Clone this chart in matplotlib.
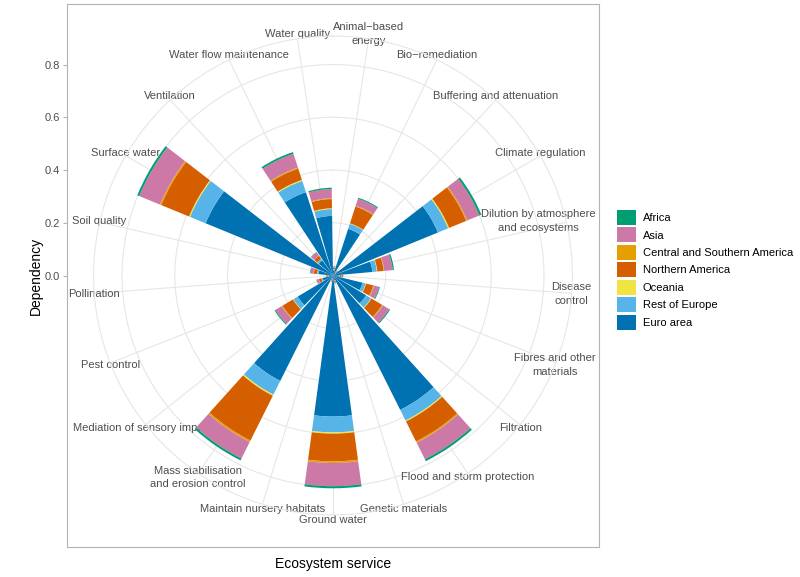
import numpy as np
import matplotlib
matplotlib.use("Agg")
import matplotlib.pyplot as plt
from matplotlib.patches import Patch

plt.rcParams["font.family"] = ["Liberation Sans", "DejaVu Sans"]

services = [
    "Animal\u2212based\nenergy",
    "Bio\u2212remediation",
    "Buffering and attenuation",
    "Climate regulation",
    "Dilution by atmosphere\nand ecosystems",
    "Disease\ncontrol",
    "Fibres and other\nmaterials",
    "Filtration",
    "Flood and storm protection",
    "Genetic materials",
    "Ground water",
    "Maintain nursery habitats",
    "Mass stabilisation\nand erosion control",
    "Mediation of sensory impacts",
    "Pest control",
    "Pollination",
    "Soil quality",
    "Surface water",
    "Ventilation",
    "Water flow maintenance",
    "Water quality",
]

# dependency by region, one value per service
euro_area = [0.020, 0.186, 0.012, 0.430, 0.150, 0.022, 0.115, 0.146, 0.570, 0.018, 0.535,
             0.012, 0.447, 0.156, 0.040, 0.015, 0.055, 0.522, 0.070, 0.332, 0.226]
rest_of_europe = [0.003, 0.020, 0.002, 0.042, 0.017, 0.003, 0.012, 0.022, 0.045, 0.002, 0.060,
                  0.002, 0.058, 0.019, 0.004, 0.002, 0.005, 0.064, 0.006, 0.045, 0.026]
oceania = [0.001, 0.002, 0.001, 0.004, 0.002, 0.001, 0.002, 0.002, 0.004, 0.001, 0.005,
           0.001, 0.005, 0.002, 0.001, 0.001, 0.001, 0.004, 0.001, 0.004, 0.003]
northern_america = [0.005, 0.067, 0.004, 0.070, 0.024, 0.006, 0.028, 0.047, 0.085, 0.005, 0.105,
                    0.003, 0.190, 0.046, 0.010, 0.004, 0.012, 0.114, 0.015, 0.045, 0.035]
central_southern_america = [0.001, 0.003, 0.001, 0.004, 0.002, 0.001, 0.003, 0.003, 0.005, 0.001, 0.006,
                            0.001, 0.006, 0.003, 0.001, 0.001, 0.001, 0.005, 0.001, 0.004, 0.003]
asia = [0.004, 0.028, 0.003, 0.050, 0.032, 0.005, 0.020, 0.028, 0.070, 0.004, 0.088,
        0.003, 0.070, 0.028, 0.008, 0.003, 0.012, 0.085, 0.014, 0.055, 0.035]
africa = [0.001, 0.004, 0.001, 0.008, 0.005, 0.001, 0.003, 0.004, 0.008, 0.001, 0.008,
          0.001, 0.008, 0.004, 0.001, 0.001, 0.002, 0.008, 0.002, 0.007, 0.005]

# stacked from the centre outwards
stack = [
    ("Euro area", euro_area),
    ("Rest of Europe", rest_of_europe),
    ("Oceania", oceania),
    ("Northern America", northern_america),
    ("Central and Southern America", central_southern_america),
    ("Asia", asia),
    ("Africa", africa),
]
colors = {
    "Africa": "#009E73",
    "Asia": "#CC79A7",
    "Central and Southern America": "#E69F00",
    "Northern America": "#D55E00",
    "Oceania": "#F0E442",
    "Rest of Europe": "#56B4E9",
    "Euro area": "#0072B2",
}
legend_order = ["Africa", "Asia", "Central and Southern America", "Northern America",
                "Oceania", "Rest of Europe", "Euro area"]

# layout in pixels
W, H = 800, 577
left, top, right, bottom = 67, 4, 599, 547
cx, cy = (left + right) / 2, (top + bottom) / 2
r_px = 0.4 * (right - left)
outer_px = 0.45 * (right - left)

totals = np.sum([np.array(v) for _, v in stack], axis=0)
rmax = totals.max()
px_per_unit = r_px / rmax
r_outer = rmax * 0.45 / 0.4

fig = plt.figure(figsize=(W / 100, H / 100), dpi=100)

frame = fig.add_axes([left / W, (H - bottom) / H, (right - left) / W, (bottom - top) / H])
frame.set_xlim(0, 1)
frame.set_ylim(-(bottom - cy) / px_per_unit, (cy - top) / px_per_unit)
frame.set_xticks([])
ticks = [0.0, 0.2, 0.4, 0.6, 0.8]
frame.set_yticks(ticks)
frame.set_yticklabels([f"{t:.1f}" for t in ticks])
frame.tick_params(axis="y", length=3, width=0.8, color="#B3B3B3", labelcolor="#4D4D4D",
                  labelsize=8, pad=2)
for spine in frame.spines.values():
    spine.set_color("#B3B3B3")
    spine.set_linewidth(0.8)
frame.set_xlabel("Ecosystem service", fontsize=10, labelpad=7)
frame.set_ylabel("Dependency", fontsize=10, labelpad=1)

ax = fig.add_axes([(cx - outer_px) / W, (H - cy - outer_px) / H, 2 * outer_px / W, 2 * outer_px / H],
                  projection="polar")
ax.patch.set_alpha(0)
ax.set_theta_zero_location("N")
ax.set_theta_direction(-1)

n = len(services)
theta = (np.arange(n) + 0.5) * 2 * np.pi / n
base = np.zeros(n)
for name, values in stack:
    ax.bar(theta, values, width=0.9 * 2 * np.pi / n, bottom=base, color=colors[name],
           linewidth=0, align="center", zorder=3)
    base = base + np.array(values)

ax.set_ylim(0, r_outer)
ax.set_xticks(theta)
ax.set_xticklabels([])
ax.set_yticks([0.2, 0.4, 0.6, 0.8])
ax.set_yticklabels([])
ax.tick_params(length=0)
ax.grid(color="#E6E6E6", linewidth=0.8)
ax.spines["polar"].set_color("#E6E6E6")
ax.spines["polar"].set_linewidth(0.8)
ax.set_axisbelow(True)

# service labels sit on the 0.45 ring of the panel (over the grid, under the bars),
# kept inside the right border
labels = []
for t, label in zip(theta, services):
    txt = ax.text(0.5 + 0.45 * np.sin(t), 0.5 + 0.45 * np.cos(t), label,
                  transform=frame.transAxes, ha="center", va="center", fontsize=8,
                  color="#4D4D4D", multialignment="center", linespacing=1.45,
                  zorder=2, clip_on=False)
    labels.append(txt)

fig.canvas.draw()
renderer = fig.canvas.get_renderer()
limit = (right - 3) / W * fig.bbox.width
for txt in labels:
    bb = txt.get_window_extent(renderer)
    if bb.x1 > limit:
        shift = (bb.x1 - limit) / frame.bbox.width
        x, y = txt.get_position()
        txt.set_position((x - shift, y))

handles = [Patch(facecolor=colors[name], linewidth=0, label=name) for name in legend_order]
fig.legend(handles=handles, loc="upper left", bbox_to_anchor=(617 / W, (H - 210) / H),
           frameon=False, fontsize=8, handlelength=1.7, handleheight=1.7,
           labelspacing=0.22, handletextpad=0.6, borderpad=0, borderaxespad=0)

fig.savefig("out.png", dpi=100)
